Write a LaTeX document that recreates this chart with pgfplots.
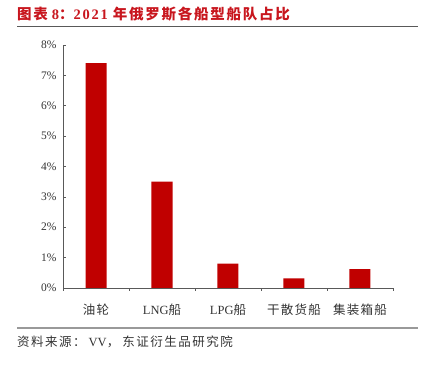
\documentclass[border=0pt]{standalone}
\usepackage{fontspec}
\setmainfont{Liberation Serif}
\newfontfamily\cjk{Noto Sans CJK SC}
\usepackage{pgfplots}
\pgfplotsset{compat=1.18}
\definecolor{barred}{HTML}{C00000}
\definecolor{titlered}{HTML}{C8161E}
\definecolor{axgray}{HTML}{595959}
\begin{document}
\begin{tikzpicture}[x=1bp,y=1bp]
\path[use as bounding box] (0,0) rectangle (425,367);
\node[anchor=west, text=titlered, font=\fontsize{14.5bp}{16bp}\selectfont\bfseries, inner sep=0] at (17,353) {\addfontfeature{LetterSpace=12}{\cjk\addfontfeature{LetterSpace=12} 图表}\hspace{4bp}8{\cjk\addfontfeature{LetterSpace=12} ：}2021\hspace{5bp}{\cjk\addfontfeature{LetterSpace=12} 年俄罗斯各船型船队占比}};
\draw[axgray, line width=0.9bp] (17,340.5) -- (418,340.5);
\draw[gray!80, line width=1.2bp] (17,39) -- (418,39);
\node[anchor=west, text=black!80, font=\fontsize{12.5bp}{14bp}\selectfont, inner sep=0] at (17,25) {{\cjk\addfontfeature{LetterSpace=12} 资料来源：}\hspace{3bp}VV{\cjk\addfontfeature{LetterSpace=12} ，}\hspace{3bp}{\cjk\addfontfeature{LetterSpace=12}东证衍生品研究院}};
\begin{axis}[
  at={(63bp,79bp)}, anchor=south west,
  scale only axis, width=330bp, height=243bp,
  xmin=-0.5, xmax=4.5, ymin=0, ymax=8,
  axis lines=left, axis line style={axgray, line width=0.6bp, -},
  ytick={0,1,...,8},
  yticklabel={\pgfmathprintnumber{\tick}\%},
  /pgf/number format/assume math mode=true,
  xtick={0,1,2,3,4},
  xticklabels={{\cjk\addfontfeature{LetterSpace=10} 油轮},LNG{\cjk 船},LPG{\cjk 船},{\cjk\addfontfeature{LetterSpace=10} 干散货船},{\cjk\addfontfeature{LetterSpace=10} 集装箱船}},
  minor xtick={-0.5,0.5,...,4.5},
  major x tick style={draw=none},
  tick style={axgray, line width=0.6bp},
  major tick length=3bp, minor tick length=3bp,
  tick align=inside,
  yticklabel style={font=\fontsize{11.5bp}{12bp}\selectfont, text=black!80, xshift=-3bp},
  xticklabel style={font=\fontsize{12.5bp}{14bp}\selectfont, text=black!80, yshift=-9bp},
  ybar, bar width=21bp,
  clip=false,
]
\addplot[fill=barred, draw=none] coordinates {(0,7.4) (1,3.5) (2,0.8) (3,0.32) (4,0.62)};
\end{axis}
\end{tikzpicture}
\end{document}
